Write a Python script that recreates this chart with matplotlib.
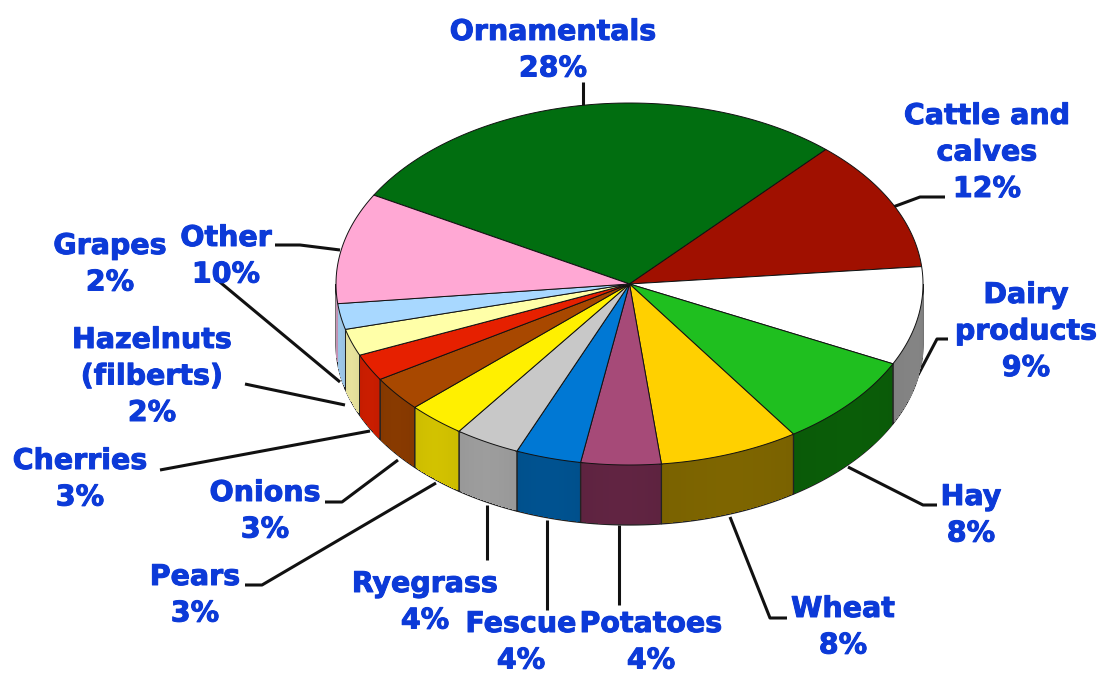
"""Pie 3D de valor agricola: lados extruidos + cara superior, en coordenadas de pixel."""

import matplotlib

matplotlib.use("Agg")
import matplotlib.patheffects as pe
import matplotlib.pyplot as plt
import numpy as np
from matplotlib.colors import to_rgb
from matplotlib.patches import Polygon

names = ["Ornamentals", "Cattle and\ncalves", "Dairy\nproducts", "Hay", "Wheat", "Potatoes", "Fescue",
         "Ryegrass", "Pears", "Onions", "Cherries", "Hazelnuts\n(filberts)", "Grapes", "Other"]
percents = [28, 12, 9, 8, 8, 4, 4, 4, 3, 3, 3, 2, 2, 10]
# porcion medida sobre la elipse (la perspectiva del original no coincide con el % exacto)
shares = [28.5, 11.8, 8.8, 8.3, 7.7, 4.4, 3.6, 3.6, 3.2, 3.1, 2.4, 2.4, 2.3, 9.9]
top_colors = ["#016e10", "#a01000", "#ffffff", "#1fbf1f", "#ffd000", "#a64a78", "#0078d4",
              "#c8c8c8", "#fff000", "#a84800", "#e62000", "#ffffa8", "#a8d8ff", "#ffa8d4"]
side_colors = ["#024008", "#600a00", "#808080", "#0a5a08", "#7a6200", "#5e2340", "#00508c",
               "#989898", "#ccbc00", "#843800", "#c41c00", "#e0dc98", "#98c0e0", "#c090b0"]

# centro de cada etiqueta (primera linea) y trazos guia, en pixeles
label_pos = [(553, 32), (987, 116), (1026, 295), (971, 497), (843, 609), (651, 624), (521, 624),
             (425, 584), (195, 577), (265, 493), (80, 461), (152, 340), (110, 246), (226, 238)]
leaders = [
    [(583, 82), (583, 107)],
    [(945, 197), (920, 197), (893, 207)],
    [(948, 339), (937, 339), (918, 375)],
    [(937, 505), (923, 505), (848, 467)],
    [(787, 618), (770, 618), (730, 517)],
    [(619, 525), (619, 605)],
    [(547, 520), (547, 610)],
    [(487, 505), (487, 560)],
    [(245, 585), (262, 585), (436, 483)],
    [(325, 502), (342, 502), (398, 460)],
    [(160, 470), (370, 431)],
    [(245, 384), (345, 405)],
    [(215, 278), (340, 382)],
    [(275, 245), (300, 245), (340, 250)],
]

CX, CY, RX, RY = 629.5, 284, 293.5, 181
DEPTH = 60
START = 150.6
LINE_PX = 36.5
TEXT_COLOR = "#0c3ad8"


def rim(angles):
    rad = np.radians(angles)
    return CX + RX * np.cos(rad), CY - RY * np.sin(rad)


fig = plt.figure(figsize=(11.01, 6.73), dpi=100)
ax = fig.add_axes([0, 0, 1, 1])
ax.set_xlim(0, 1101)
ax.set_ylim(673, 0)
ax.axis("off")

for pts in leaders:
    xs, ys = zip(*pts)
    ax.plot(xs, ys, color="#111111", lw=2.2, solid_capstyle="butt", zorder=1)

angle = START
edges = []
for share in shares:
    edges.append((angle, angle - share * 3.6))
    angle -= share * 3.6

# lados: solo la parte de la cara que mira hacia abajo
for (a0, a1), side in zip(edges, side_colors):
    for lo, hi in [(a1, a0), (a1 + 360, a0 + 360), (a1 - 360, a0 - 360)]:
        lo, hi = max(lo, -180), min(hi, 0)
        if hi <= lo:
            continue
        steps = np.linspace(lo, hi, int(hi - lo) * 2 + 2)
        xs, ys = rim(steps)
        band = np.column_stack([np.r_[xs, xs[::-1]], np.r_[ys, ys[::-1] + DEPTH]])
        ax.add_patch(Polygon(band, closed=True, fc=side, ec="#222222", lw=0.9, zorder=2))
        base = np.array(to_rgb(side))
        for j in range(1, len(steps) - 2):
            t = j / (len(steps) - 2)
            shade = np.clip(base * (1.0 + 0.03 * np.sin(np.pi * t)), 0, 1)
            xa, ya = rim(steps[j:j + 2])
            quad = np.column_stack([np.r_[xa, xa[::-1]], np.r_[ya, ya[::-1] + DEPTH - 1]])
            ax.add_patch(Polygon(quad, closed=True, fc=shade, lw=0, antialiased=False, zorder=2.5))

# cara superior
for (a0, a1), top in zip(edges, top_colors):
    xa, ya = rim(np.linspace(a1, a0, 80))
    poly = np.column_stack([np.r_[CX, xa], np.r_[CY, ya]])
    ax.add_patch(Polygon(poly, closed=True, fc=top, ec="#111111", lw=0.7, zorder=4))

heavy = [pe.withStroke(linewidth=0.7, foreground=TEXT_COLOR)]
for name, pct, (x, y) in zip(names, percents, label_pos):
    lines = name.split("\n") + [f"{pct}%"]
    for k, line in enumerate(lines):
        ax.text(x, y + k * LINE_PX, line, ha="center", va="center", fontsize=20.5,
                fontweight="bold", color=TEXT_COLOR, family="DejaVu Sans", zorder=6,
                path_effects=heavy)

plt.savefig("out.png", dpi=100)
